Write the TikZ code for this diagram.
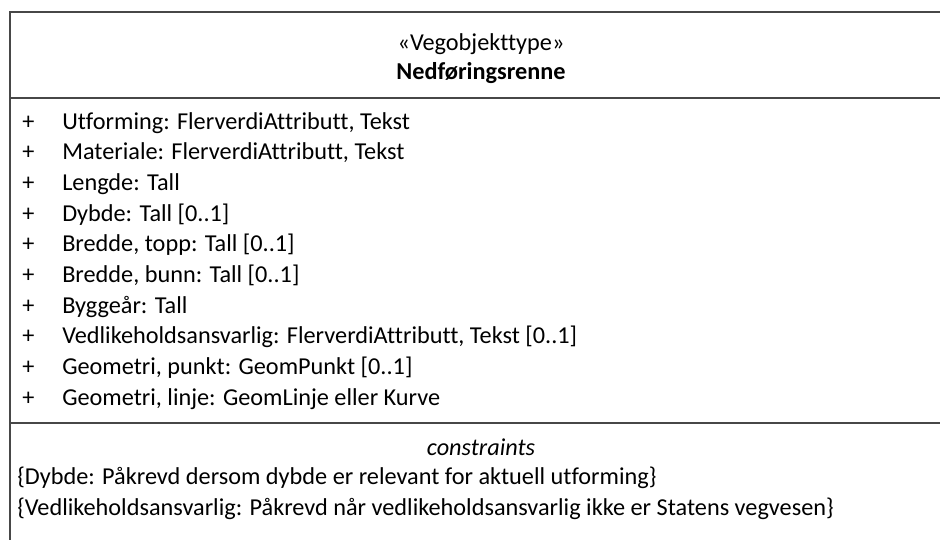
\documentclass[tikz,border=0pt]{standalone}
\usepackage{fontspec}
\setmainfont[Ligatures=NoCommon]{Carlito}
\begin{document}
\begin{tikzpicture}[x=.75pt,y=-.75pt]
\tikzstyle{every node}=[inner sep=0pt, font=\fontsize{18.2}{22}\selectfont]
\tikzstyle{attr}=[anchor=base west]
\tikzstyle{frame}=[line width=1.1pt, black!72]
\useasboundingbox (0,0) rectangle (940,540);
% class box
\draw[frame] (940,12) -- (10,12) -- (10,540);
\draw[frame] (10,98) -- (940,98);
\draw[frame] (10,423) -- (940,423);
% name compartment
\node (stereo) at (481,50) [anchor=base] {«Vegobjekttype»};
\node (name) at (481,79) [anchor=base, font=\fontsize{18.2}{22}\selectfont\bfseries] {Nedføringsrenne};
% attributes
\foreach \t [count=\i from 0] in {{Utforming: FlerverdiAttributt, Tekst},
    {Materiale: FlerverdiAttributt, Tekst}, {Lengde: Tall}, {Dybde: Tall [0..1]},
    {Bredde, topp: Tall [0..1]}, {Bredde, bunn: Tall [0..1]}, {Byggeår: Tall},
    {Vedlikeholdsansvarlig: FlerverdiAttributt, Tekst [0..1]},
    {Geometri, punkt: GeomPunkt [0..1]}, {Geometri, linje: GeomLinje eller Kurve}}
{
  \node (vis\i) at (22,129+30.67*\i) [attr] {+};
  \node (attr\i) at (62,129+30.67*\i) [attr] {\t};
}
% constraints
\node (ctitle) at (481,455) [anchor=base, font=\fontsize{18.2}{22}\selectfont\itshape] {constraints};
\node (c1) at (17,484) [attr] {\{Dybde: Påkrevd dersom dybde er relevant for aktuell utforming\}};
\node (c2) at (17,515) [attr] {\{Vedlikeholdsansvarlig: Påkrevd når vedlikeholdsansvarlig ikke er Statens vegvesen\}};
\end{tikzpicture}
\end{document}
